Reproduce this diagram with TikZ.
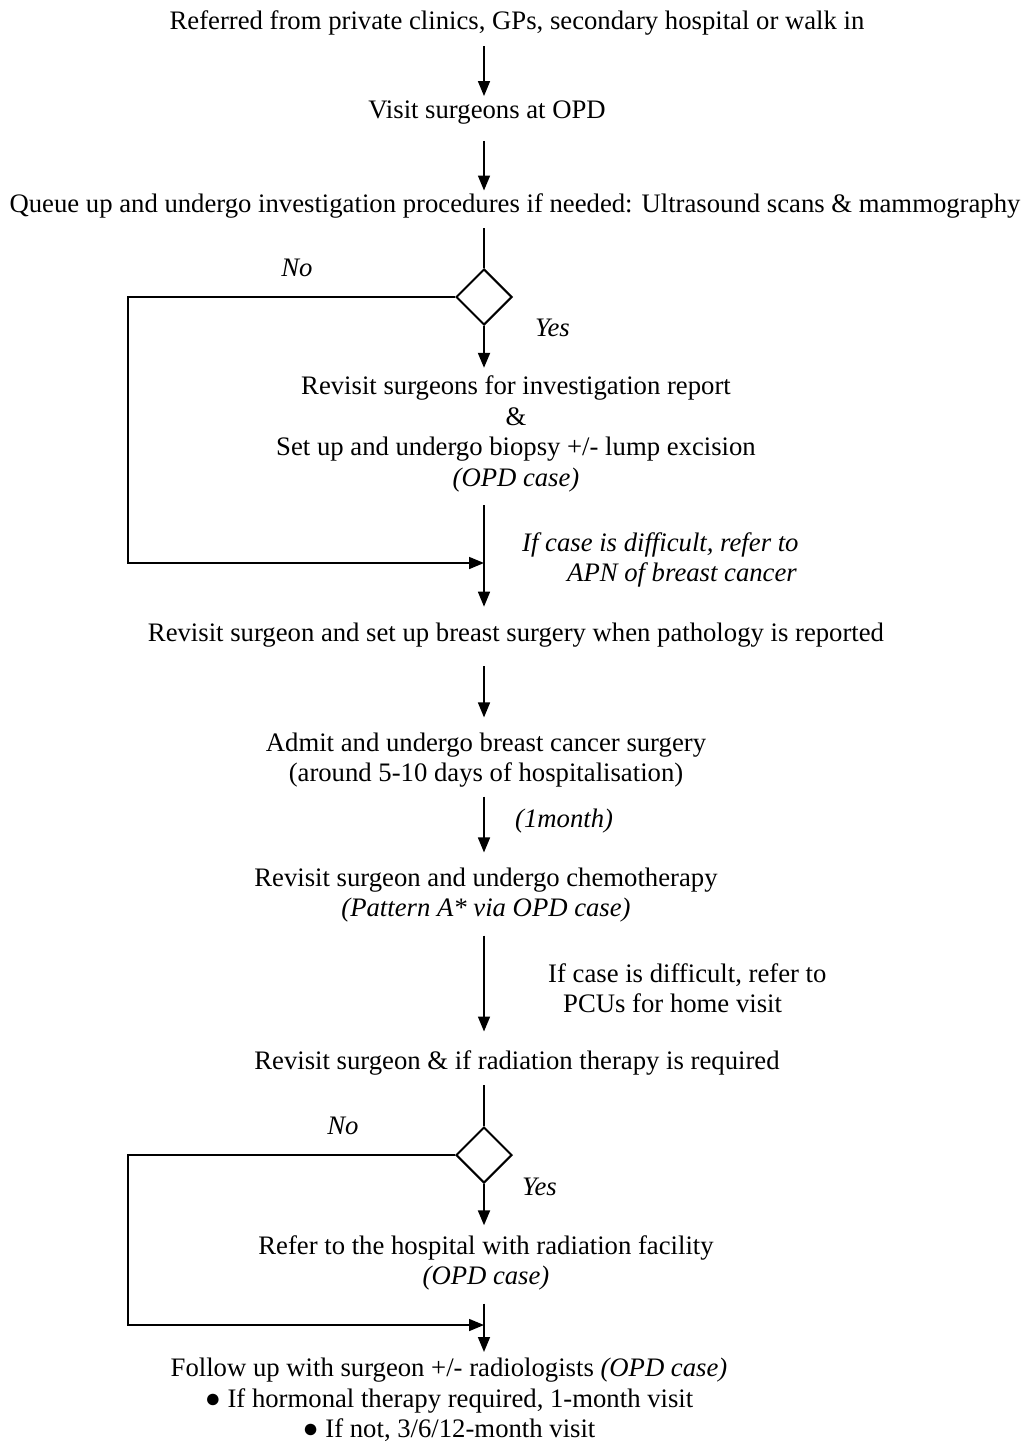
\documentclass[tikz,border=0pt]{standalone}
\usepackage{fontspec}
\setmainfont{Liberation Serif}
\usetikzlibrary{arrows.meta,shapes.geometric}
\begin{document}
\begin{tikzpicture}[x=1pt,y=-1pt,
  every node/.style={font=\fontsize{26.7}{30.5}\selectfont, inner sep=0pt, align=center},
  lbl/.style={font=\fontsize{26.7}{30.5}\selectfont\itshape},
  arr/.style={line width=1.6pt, -{Triangle[length=15pt,width=12pt]}},
  wire/.style={line width=2pt},
  decision/.style={diamond, aspect=1, draw, line width=2pt, minimum size=56pt, inner sep=0pt}]
\useasboundingbox (0,0) rectangle (1027,1442);
\coordinate (sp) at (484,0);

% process steps
\node (t1) at (517,23) {Referred from private clinics, GPs, secondary hospital or walk in};
\node (t2) at (487,113) {Visit surgeons at OPD};
\node (t3) at (515,206) {Queue up and undergo investigation procedures if needed: Ultrasound scans \& mammography};
\node[decision] (d1) at (484,297) {};
\node (t4) at (516,434) {Revisit surgeons for investigation report\\ \&\\ Set up and undergo biopsy +/- lump excision\\ \textit{(OPD case)}};
\node (t5) at (516,635) {Revisit surgeon and set up breast surgery when pathology is reported};
\node (t6) at (486,760) {Admit and undergo breast cancer surgery\\ (around 5-10 days of hospitalisation)};
\node (t7) at (486,895) {Revisit surgeon and undergo chemotherapy\\ \textit{(Pattern A* via OPD case)}};
\node (t8) at (517,1063) {Revisit surgeon \& if radiation therapy is required};
\node[decision] (d2) at (484,1155) {};
\node (t9) at (486,1263) {Refer to the hospital with radiation facility\\ \textit{(OPD case)}};
\node (t10) at (449,1400) {Follow up with surgeon +/- radiologists \textit{(OPD case)}\\ ● If hormonal therapy required, 1-month visit\\ ● If not, 3/6/12-month visit};

% labels
\node[lbl] (no1) at (297,268) {No};
\node[lbl, anchor=west] (yes1) at (535,328) {Yes};
\node[lbl, anchor=west, align=left] (apn) at (522,560) {If case is difficult, refer to\\ \hspace*{45pt}APN of breast cancer};
\node[lbl, anchor=west] (mon) at (515,821) {(1month)};
\node[anchor=west, align=left] (pcu) at (548,988) {If case is difficult, refer to\\ \hspace*{15pt}PCUs for home visit};
\node[lbl] (no2) at (343,1126) {No};
\node[lbl, anchor=west] (yes2) at (522,1187) {Yes};

% branch points
\coordinate (l1) at (128,563);
\coordinate (j1) at (484,563);
\coordinate (l2) at (128,1325);
\coordinate (j2) at (484,1325);

% main flow
\draw[arr, shorten <=11pt, shorten >=5pt] (t1.south -| sp) -- (t2.north -| sp);
\draw[arr, shorten <=16pt, shorten >=3pt] (t2.south -| sp) -- (t3.north -| sp);
\draw[wire, shorten <=10pt] (t3.south -| sp) -- (d1.north);
\draw[arr, wire, shorten >=8pt] (d1.south) -- (t4.north -| sp);
\draw[arr, shorten <=13pt, shorten >=16pt] (t4.south -| sp) -- (t5.north -| sp);
\draw[arr, shorten <=19pt, shorten >=15pt] (t5.south -| sp) -- (t6.north -| sp);
\draw[arr, shorten <=9pt, shorten >=15pt] (t6.south -| sp) -- (t7.north -| sp);
\draw[arr, shorten <=13pt, shorten >=19pt] (t7.south -| sp) -- (t8.north -| sp);
\draw[wire, shorten <=10pt] (t8.south -| sp) -- (d2.north);
\draw[arr, wire, shorten >=10pt] (d2.south) -- (t9.north -| sp);
\draw[arr, shorten <=13pt, shorten >=6pt] (t9.south -| sp) -- (t10.north -| sp);

% "No" branches
\draw[wire, arr] (d1.west) -| (l1) -- (j1);
\draw[wire, arr] (d2.west) -| (l2) -- (j2);
\end{tikzpicture}
\end{document}
